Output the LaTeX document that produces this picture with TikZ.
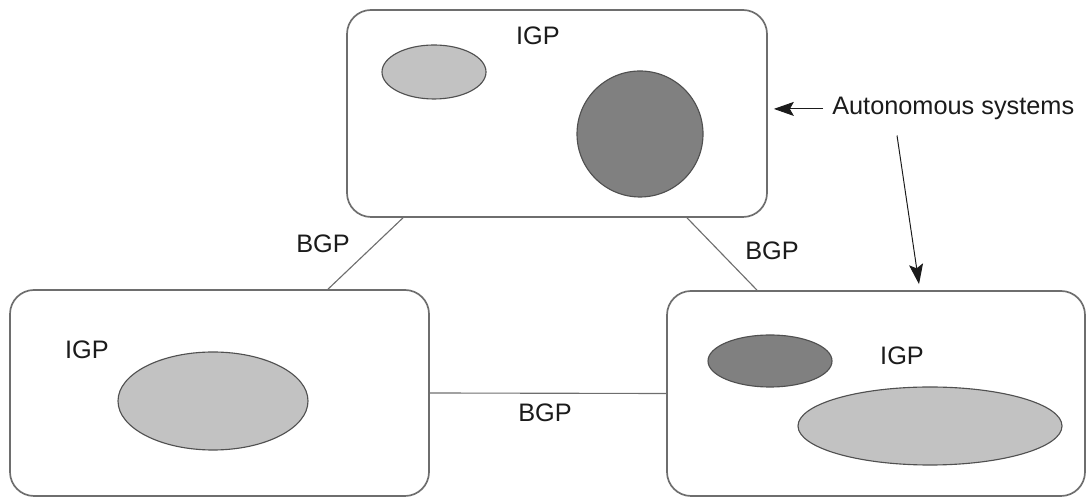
\documentclass[tikz,border=0pt]{standalone}
\usepackage{fontspec}
\setmainfont{Liberation Sans}
\usepackage{tikz}
\usetikzlibrary{arrows.meta,calc,shapes.geometric}
\definecolor{ink}{HTML}{1B1B1B}
\definecolor{edge}{HTML}{6E6E6E}
\definecolor{rim}{HTML}{505050}
\definecolor{lite}{HTML}{C2C2C2}
\definecolor{dark}{HTML}{808080}

\begin{document}
\begin{tikzpicture}[
  font=\fontsize{18}{21}\selectfont,
  asbox/.style={draw=edge, line width=1.2pt, rounded corners=6mm, fill=white},
  net/.style={ellipse, draw=rim, line width=0.8pt, inner sep=0pt},
  netl/.style={net, fill=lite},
  netd/.style={net, fill=dark},
  lbl/.style={inner sep=0pt, text=ink},
  link/.style={draw=edge, line width=0.8pt},
  arr/.style={-{Stealth[length=5mm, width=3.5mm, inset=1mm]}, draw=ink, line width=0.7pt}]
\useasboundingbox (0,0) rectangle (27.175,12.45);
% the three autonomous systems
\node[asbox, minimum width=10.5cm,  minimum height=5.175cm] (top)   at (13.925, 9.6125) {};
\node[asbox, minimum width=10.475cm, minimum height=5.15cm] (left)  at (5.4875, 2.625)  {};
\node[asbox, minimum width=10.45cm, minimum height=5.125cm] (right) at (21.9, 2.6125)   {};
% networks inside them
\node[netl, minimum width=2.6cm,  minimum height=1.35cm] (tn1) at (10.85, 10.65) {};
\node[netd, minimum width=3.15cm, minimum height=3.15cm] (tn2) at (16.0, 9.1)    {};
\node[netl, minimum width=4.75cm, minimum height=2.45cm] (ln1) at (5.325, 2.425) {};
\node[netd, minimum width=3.1cm,  minimum height=1.3cm]  (rn1) at (19.25, 3.425) {};
\node[netl, minimum width=6.6cm,  minimum height=1.95cm] (rn2) at (23.25, 1.8)   {};
% labels
\node[lbl] (igpt) at (13.45, 11.55) {IGP};
\node[lbl] (igpl) at (2.175, 3.7)   {IGP};
\node[lbl] (igpr) at (22.55, 3.55)  {IGP};
\node[lbl] (bgpl) at (8.075, 6.35)  {BGP};
\node[lbl] (bgpr) at (19.3, 6.175)  {BGP};
\node[lbl] (bgpb) at (13.625, 2.125) {BGP};
\node[lbl, anchor=base west] (as) at (20.8, 9.575) {Autonomous systems};
% BGP links between the systems
\draw[link] ([xshift=-3.85cm]top.south) -- ([xshift=2.7125cm]left.north);
\draw[link] ([xshift=3.25cm]top.south) -- ([xshift=-2.975cm]right.north);
\draw[link] (left.east) -- (right.west);
% pointers from the caption
\draw[arr] ([xshift=-2.2mm]as.west) -- ([xshift=1.5mm]as.west -| top.east);
\draw[arr] ([xshift=16.25mm, yshift=-3.75mm]as.south west) -- ([xshift=10.75mm, yshift=1.5mm]right.north);
\end{tikzpicture}
\end{document}
